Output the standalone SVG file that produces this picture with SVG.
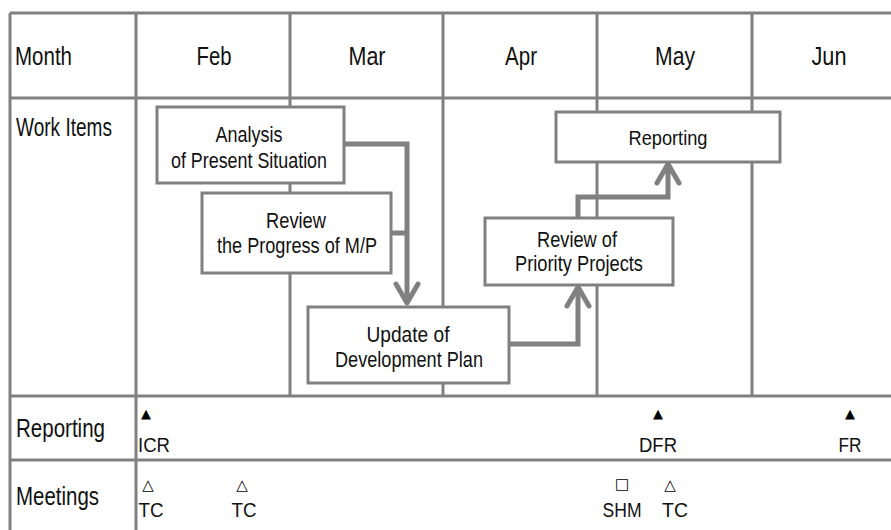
<svg xmlns="http://www.w3.org/2000/svg" width="891" height="530" viewBox="0 0 891 530">
<style>
.grid{stroke:#808080;stroke-width:3;fill:none}
.box{fill:#fff;stroke:#808080;stroke-width:3}
.conn{fill:none;stroke:#808080;stroke-width:5;stroke-linejoin:miter}
text{font-family:"Liberation Sans",Arial,sans-serif;fill:#111}
.hd{font-size:25px;text-anchor:middle}
.lb{font-size:25px}
.nd{font-size:22px;text-anchor:middle}
.cd{font-size:20px;text-anchor:middle}
.sym{font-family:"DejaVu Sans","Noto Sans CJK JP",sans-serif;font-size:15px;text-anchor:middle;fill:#000}
.tri{font-size:13px}
</style>
<defs>
<marker id="chev" viewBox="-26 -15 30 30" refX="0" refY="0" markerWidth="30" markerHeight="30" markerUnits="userSpaceOnUse" orient="auto">
<path d="M-19,-11 L0,0 L-19,11" fill="none" stroke="#808080" stroke-width="5" stroke-linecap="round" stroke-linejoin="round"/>
</marker>
</defs>
<rect width="891" height="530" fill="#fff"/>
<g id="grid">
<line class="grid" x1="10" y1="13" x2="891" y2="13"/>
<line class="grid" x1="10" y1="98" x2="891" y2="98"/>
<line class="grid" x1="10" y1="396" x2="891" y2="396"/>
<line class="grid" x1="10" y1="460" x2="891" y2="460"/>
<line class="grid" x1="10" y1="13" x2="10" y2="530"/>
<line class="grid" x1="136" y1="13" x2="136" y2="530"/>
<line class="grid" x1="290" y1="13" x2="290" y2="396"/>
<line class="grid" x1="443" y1="13" x2="443" y2="396"/>
<line class="grid" x1="597" y1="13" x2="597" y2="396"/>
<line class="grid" x1="752" y1="13" x2="752" y2="396"/>
</g>
<g id="headers">
<text class="lb" x="15" y="65" textLength="57" lengthAdjust="spacingAndGlyphs">Month</text>
<text class="hd" x="214" y="65" textLength="35" lengthAdjust="spacingAndGlyphs">Feb</text>
<text class="hd" x="367" y="65" textLength="37" lengthAdjust="spacingAndGlyphs">Mar</text>
<text class="hd" x="521" y="65" textLength="32" lengthAdjust="spacingAndGlyphs">Apr</text>
<text class="hd" x="675" y="65" textLength="40" lengthAdjust="spacingAndGlyphs">May</text>
<text class="hd" x="829" y="65" textLength="35" lengthAdjust="spacingAndGlyphs">Jun</text>
<text class="lb" x="16" y="136" textLength="96" lengthAdjust="spacingAndGlyphs">Work Items</text>
<text class="lb" x="16" y="437" textLength="89" lengthAdjust="spacingAndGlyphs">Reporting</text>
<text class="lb" x="16" y="505" textLength="83" lengthAdjust="spacingAndGlyphs">Meetings</text>
</g>
<g id="connectors">
<path class="conn" d="M344,144 H407 V303" marker-end="url(#chev)"/>
<path class="conn" d="M391,233 H407"/>
<path class="conn" d="M509,344 H578 V287" marker-end="url(#chev)"/>
<path class="conn" d="M578,218 V197 H668 V164" marker-end="url(#chev)"/>
</g>
<g id="analysis">
<rect class="box" x="157" y="107" width="187" height="76"/>
<text class="nd" x="249" y="142" textLength="67" lengthAdjust="spacingAndGlyphs">Analysis</text>
<text class="nd" x="249" y="168" textLength="156" lengthAdjust="spacingAndGlyphs">of Present Situation</text>
</g>
<g id="review-mp">
<rect class="box" x="202" y="193" width="189" height="80"/>
<text class="nd" x="296" y="228" textLength="60" lengthAdjust="spacingAndGlyphs">Review</text>
<text class="nd" x="297" y="253" textLength="160" lengthAdjust="spacingAndGlyphs">the Progress of M/P</text>
</g>
<g id="update">
<rect class="box" x="308" y="307" width="201" height="76"/>
<text class="nd" x="408" y="342" textLength="83" lengthAdjust="spacingAndGlyphs">Update  of</text>
<text class="nd" x="409" y="367" textLength="148" lengthAdjust="spacingAndGlyphs">Development Plan</text>
</g>
<g id="review-priority">
<rect class="box" x="485" y="218" width="188" height="67"/>
<text class="nd" x="577" y="247" textLength="80" lengthAdjust="spacingAndGlyphs">Review of</text>
<text class="nd" x="579" y="271" textLength="128" lengthAdjust="spacingAndGlyphs">Priority Projects</text>
</g>
<g id="reporting">
<rect class="box" x="556" y="112" width="224" height="50"/>
<text class="nd" x="668" y="145" style="font-size:20px" textLength="79" lengthAdjust="spacingAndGlyphs">Reporting</text>
</g>
<g id="reporting-row">
<text class="sym tri" x="146" y="418">▲</text>
<text class="cd" x="154" y="452" textLength="32" lengthAdjust="spacingAndGlyphs">ICR</text>
<text class="sym tri" x="658" y="418">▲</text>
<text class="cd" x="658" y="452" textLength="38" lengthAdjust="spacingAndGlyphs">DFR</text>
<text class="sym tri" x="850" y="418">▲</text>
<text class="cd" x="850" y="452" textLength="23" lengthAdjust="spacingAndGlyphs">FR</text>
</g>
<g id="meetings-row">
<text class="sym" x="148" y="490">△</text>
<text class="cd" x="151" y="517" textLength="25" lengthAdjust="spacingAndGlyphs">TC</text>
<text class="sym" x="242" y="490">△</text>
<text class="cd" x="244" y="517" textLength="25" lengthAdjust="spacingAndGlyphs">TC</text>
<text class="sym" x="622" y="489">□</text>
<text class="cd" x="622" y="517" textLength="39" lengthAdjust="spacingAndGlyphs">SHM</text>
<text class="sym" x="670" y="490">△</text>
<text class="cd" x="675" y="517" textLength="26" lengthAdjust="spacingAndGlyphs">TC</text>
</g>
</svg>
